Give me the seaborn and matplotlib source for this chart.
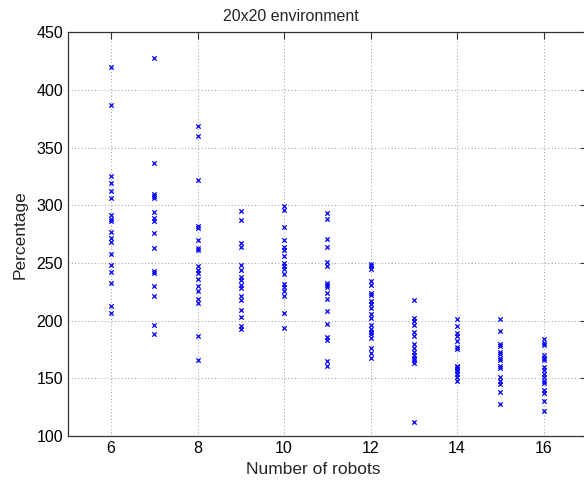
import pandas as pd
import matplotlib
matplotlib.use('Agg')
import matplotlib.pyplot as plt
import seaborn as sns

# percentage values, one list per robot count
robots_6 = [420, 387, 325, 319, 312, 306, 292, 288, 286, 277, 272, 268, 258, 248, 242, 233, 213, 207]
robots_7 = [428, 337, 310, 308, 306, 294, 289, 286, 276, 263, 243, 241, 230, 221, 196, 188]
robots_8 = [369, 360, 322, 282, 280, 270, 263, 261, 247, 244, 241, 236, 230, 226, 219, 215, 187, 166]
robots_9 = [295, 287, 267, 264, 248, 244, 238, 235, 231, 228, 221, 218, 209, 203, 195, 193]
robots_10 = [299, 296, 281, 270, 264, 261, 256, 250, 247, 245, 240, 232, 229, 226, 221, 207, 194]
robots_11 = [293, 288, 271, 264, 251, 247, 233, 231, 229, 224, 219, 208, 197, 186, 183, 165, 161]
robots_12 = [249, 247, 245, 234, 231, 224, 222, 217, 214, 211, 206, 202, 196, 193, 190, 188, 185,
             176, 172, 168]
robots_13 = [218, 202, 200, 196, 190, 187, 180, 176, 173, 170, 168, 166, 163, 112]
robots_14 = [201, 195, 189, 187, 182, 177, 175, 161, 160, 158, 156, 154, 151, 148]
robots_15 = [201, 191, 180, 178, 173, 171, 168, 166, 161, 159, 151, 148, 145, 138, 128]
robots_16 = [184, 181, 179, 170, 168, 166, 160, 157, 154, 151, 148, 146, 140, 137, 130, 122]

series = {6: robots_6, 7: robots_7, 8: robots_8, 9: robots_9, 10: robots_10, 11: robots_11,
          12: robots_12, 13: robots_13, 14: robots_14, 15: robots_15, 16: robots_16}

x_ticks = [6, 8, 10, 12, 14, 16]
y_ticks = [100, 150, 200, 250, 300, 350, 400, 450]


def main():
    rows = [(n, v) for n, vals in series.items() for v in vals]
    df = pd.DataFrame(rows, columns=['robots', 'pct'])

    sns.set_style('white')
    plt.rcParams['font.family'] = ['Liberation Sans', 'DejaVu Sans']

    fig = plt.figure(figsize=(5.84, 4.86), dpi=100)
    ax = fig.add_axes([0.116, 0.103, 0.889, 0.8305])

    sns.scatterplot(data=df, x='robots', y='pct', marker='x', color='#0000ff',
                    s=10, linewidth=0.9, ax=ax, zorder=3)

    ax.set_xlim(5, 17)
    ax.set_ylim(100, 450)
    ax.set_xticks(x_ticks)
    ax.set_yticks(y_ticks)
    ax.grid(True, linestyle=(0, (1, 3)), color='#777777', linewidth=0.6)
    ax.tick_params(direction='in', length=5, width=0.8, labelsize=11.5,
                   top=True, right=True, colors='#333333', labelcolor='black')
    for sp in ax.spines.values():
        sp.set_color('#333333')
        sp.set_linewidth(0.9)

    ax.set_xlabel('Number of robots', fontsize=12.5, labelpad=2)
    ax.xaxis.set_label_coords(0.472, -0.065)
    ax.set_ylabel('Percentage', fontsize=12.5, labelpad=6)
    ax.set_title('20x20 environment', fontsize=11.5, pad=8, x=0.43)

    fig.savefig('out.png', dpi=100)


if __name__ == '__main__':
    main()
